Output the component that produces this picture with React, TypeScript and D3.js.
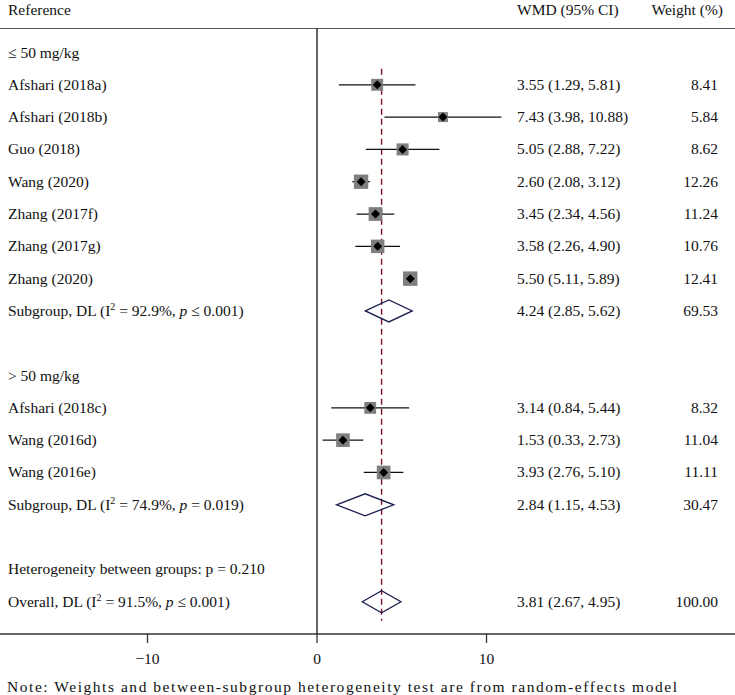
import { useEffect, useRef } from 'react';
import * as d3 from 'd3';

const studies = ['Afshari (2018a)', 'Afshari (2018b)', 'Guo (2018)', 'Wang (2020)', 'Zhang (2017f)', 'Zhang (2017g)', 'Zhang (2020)',
  'Afshari (2018c)', 'Wang (2016d)', 'Wang (2016e)'];
const groupOf = [0, 0, 0, 0, 0, 0, 0, 1, 1, 1];
const wmd = [3.55, 7.43, 5.05, 2.60, 3.45, 3.58, 5.50, 3.14, 1.53, 3.93];
const lower = [1.29, 3.98, 2.88, 2.08, 2.34, 2.26, 5.11, 0.84, 0.33, 2.76];
const upper = [5.81, 10.88, 7.22, 3.12, 4.56, 4.90, 5.89, 5.44, 2.73, 5.10];
const weights = [8.41, 5.84, 8.62, 12.26, 11.24, 10.76, 12.41, 8.32, 11.04, 11.11];

const groupNames = ['≤ 50 mg/kg', '> 50 mg/kg'];
const groupI2 = ['92.9%', '74.9%'];
const groupP = ['p ≤ 0.001', 'p = 0.019'];
const groupEst = [4.24, 2.84];
const groupLo = [2.85, 1.15];
const groupHi = [5.62, 4.53];
const groupW = [69.53, 30.47];

const overall = { est: 3.81, lo: 2.67, hi: 4.95, i2: '91.5%', p: 'p ≤ 0.001' };
const hetP = '0.210';
const xTicks = [-10, 0, 10];

const W = 735;
const H = 695;
const FONT = '"Liberation Serif", "Times New Roman", serif';

const App = () => {
  const svgRef = useRef<SVGSVGElement | null>(null);

  useEffect(() => {
    if (!svgRef.current) return;
    const svg = d3.select(svgRef.current);
    svg.selectAll('*').remove();

    const x = d3.scaleLinear().domain([0, 10]).range([317, 486.5]);
    const y = d3.scaleLinear().domain([0, 18]).range([52.5, 634]);

    // build row list
    type Row = { kind: string; label?: string; i?: number; g?: number };
    const rows: Row[] = [];
    groupNames.forEach((name, g) => {
      rows.push({ kind: 'group', label: name });
      studies.forEach((s, i) => {
        if (groupOf[i] === g) rows.push({ kind: 'study', label: s, i });
      });
      rows.push({ kind: 'sub', g });
      rows.push({ kind: 'blank' });
    });
    rows.push({ kind: 'het' });
    rows.push({ kind: 'overall' });

    const fmt = d3.format('.2f');
    const ci = (e: number, l: number, h: number) => `${fmt(e)} (${fmt(l)}, ${fmt(h)})`;

    const g = svg.append('g').attr('font-family', FONT).attr('font-size', 15.5).attr('fill', '#111');

    // header
    g.append('text').attr('x', 8).attr('y', 15).text('Reference');
    g.append('text').attr('x', 517).attr('y', 15).text('WMD (95% CI)');
    g.append('text').attr('x', 723).attr('y', 15).attr('text-anchor', 'end').text('Weight (%)');

    g.append('line').attr('x1', 0).attr('x2', W).attr('y1', 28.5).attr('y2', 28.5)
      .attr('stroke', '#555').attr('stroke-width', 1.2);

    // zero line
    g.append('line').attr('x1', x(0)).attr('x2', x(0)).attr('y1', 28.5).attr('y2', y(18))
      .attr('stroke', '#333').attr('stroke-width', 1.5);

    // overall dashed line
    g.append('line').attr('x1', x(overall.est)).attr('x2', x(overall.est))
      .attr('y1', y(0.5)).attr('y2', y(17) + 19)
      .attr('stroke', '#7a1020').attr('stroke-width', 1.4).attr('stroke-dasharray', '6,4');

    const diamond = (cx: number, lo: number, hi: number, cy: number) => {
      const h = 11;
      g.append('path')
        .attr('d', `M${x(lo)},${cy}L${x(cx)},${cy - h}L${x(hi)},${cy}L${x(cx)},${cy + h}Z`)
        .attr('fill', 'none').attr('stroke', '#1a1f4e').attr('stroke-width', 1.3);
    };

    const statLabel = (sel: d3.Selection<SVGTextElement, unknown, null, undefined>, head: string, i2: string, p: string) => {
      sel.append('tspan').text(`${head} (I`);
      sel.append('tspan').attr('font-size', 10).attr('dy', -6).text('2');
      sel.append('tspan').attr('dy', 6).text(` = ${i2}, `);
      sel.append('tspan').attr('font-style', 'italic').text('p');
      sel.append('tspan').text(` ${p.slice(2)})`);
    };

    const side = (w: number) => 4.1 * Math.sqrt(w);

    rows.forEach((r, k) => {
      const cy = y(k);
      const ty = cy + 5;
      if (r.kind === 'group') {
        g.append('text').attr('x', 8).attr('y', ty).text(r.label!);
      } else if (r.kind === 'study') {
        const i = r.i!;
        g.append('text').attr('x', 8).attr('y', ty).text(r.label!);
        g.append('line').attr('x1', x(lower[i])).attr('x2', x(upper[i])).attr('y1', cy).attr('y2', cy)
          .attr('stroke', '#111').attr('stroke-width', 1.3);
        const s = side(weights[i]);
        g.append('rect').attr('x', x(wmd[i]) - s / 2).attr('y', cy - s / 2).attr('width', s).attr('height', s)
          .attr('fill', '#7f7f7f');
        const d = 4.5;
        g.append('path')
          .attr('d', `M${x(wmd[i]) - d},${cy}L${x(wmd[i])},${cy - d}L${x(wmd[i]) + d},${cy}L${x(wmd[i])},${cy + d}Z`)
          .attr('fill', '#000');
        g.append('text').attr('x', 517).attr('y', ty).text(ci(wmd[i], lower[i], upper[i]));
        g.append('text').attr('x', 718).attr('y', ty).attr('text-anchor', 'end').text(fmt(weights[i]));
      } else if (r.kind === 'sub') {
        const gi = r.g!;
        statLabel(g.append('text').attr('x', 8).attr('y', ty), 'Subgroup, DL', groupI2[gi], groupP[gi]);
        diamond(groupEst[gi], groupLo[gi], groupHi[gi], cy);
        g.append('text').attr('x', 517).attr('y', ty).text(ci(groupEst[gi], groupLo[gi], groupHi[gi]));
        g.append('text').attr('x', 718).attr('y', ty).attr('text-anchor', 'end').text(fmt(groupW[gi]));
      } else if (r.kind === 'het') {
        g.append('text').attr('x', 8).attr('y', ty).text(`Heterogeneity between groups: p = ${hetP}`);
      } else if (r.kind === 'overall') {
        statLabel(g.append('text').attr('x', 8).attr('y', ty), 'Overall, DL', overall.i2, overall.p);
        diamond(overall.est, overall.lo, overall.hi, cy);
        g.append('text').attr('x', 517).attr('y', ty).text(ci(overall.est, overall.lo, overall.hi));
        g.append('text').attr('x', 718).attr('y', ty).attr('text-anchor', 'end').text('100.00');
      }
    });

    // bottom axis
    const axisY = y(18);
    g.append('line').attr('x1', 0).attr('x2', W).attr('y1', axisY).attr('y2', axisY)
      .attr('stroke', '#333').attr('stroke-width', 1.3);
    xTicks.forEach((t) => {
      g.append('line').attr('x1', x(t)).attr('x2', x(t)).attr('y1', axisY).attr('y2', axisY + 9)
        .attr('stroke', '#333').attr('stroke-width', 1.3);
      g.append('text').attr('x', x(t)).attr('y', axisY + 30).attr('text-anchor', 'middle')
        .text(t < 0 ? `−${Math.abs(t)}` : `${t}`);
    });

    g.append('text').attr('x', 7).attr('y', axisY + 58)
      .attr('textLength', 670).attr('lengthAdjust', 'spacing')
      .text('Note: Weights and between-subgroup heterogeneity test are from random-effects model');
  }, []);

  return (
    <svg ref={svgRef} width={W} height={H} style={{ position: 'absolute', left: 0, top: 0, background: '#fff' }}></svg>
  );
};

export default App;
